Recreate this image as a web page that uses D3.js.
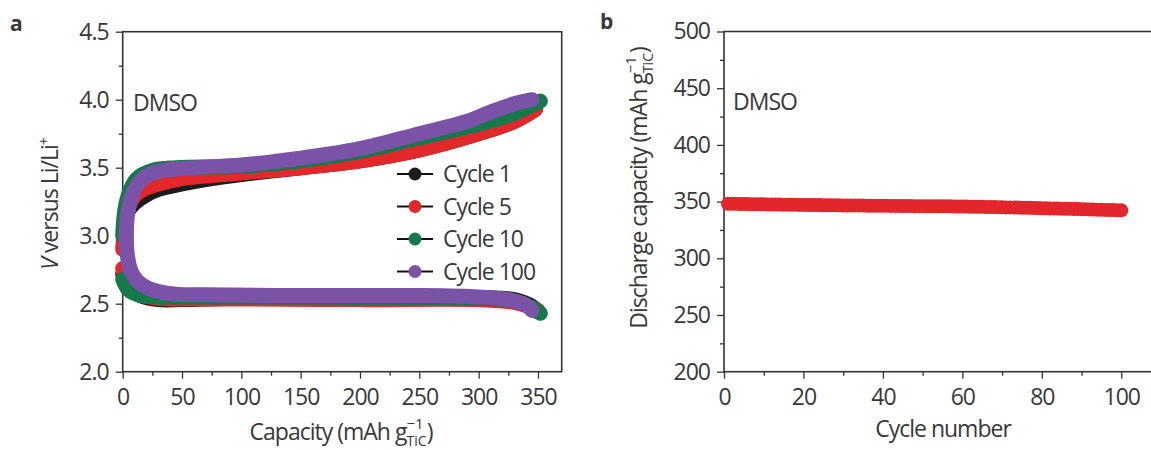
<!DOCTYPE html>
<html>
<head>
<meta charset="utf-8">
<script src="https://cdn.jsdelivr.net/npm/d3@7"></script>
<style>
  body { margin: 0; background: #fff; }
  svg text { font-family: "Open Sans", sans-serif; fill: #383838; letter-spacing: -1px; }
</style>
</head>
<body>
<div id="fig"></div>
<script>
// panel a: capacity (mAh/g) vs voltage, one charge + one discharge branch per cycle
const cycleNames = ["Cycle 1", "Cycle 5", "Cycle 10", "Cycle 100"];
const cycleColors = ["#1c1c1c", "#e3282c", "#15794a", "#7a52a8"];

const chargeCap = [
  [1, 3, 6, 10, 20, 30, 50, 75, 100, 150, 200, 250, 300, 330, 348],
  [0, 3, 8, 15, 30, 50, 100, 150, 200, 250, 300, 330, 348],
  [0, 2, 6, 12, 25, 45, 100, 150, 200, 250, 300, 330, 345, 352],
  [3, 4, 7, 12, 20, 35, 60, 100, 150, 200, 250, 290, 310, 330, 345]
];
const chargeV = [
  [2.95, 3.15, 3.2, 3.24, 3.3, 3.34, 3.38, 3.42, 3.45, 3.5, 3.55, 3.63, 3.75, 3.84, 3.93],
  [2.9, 3.15, 3.27, 3.33, 3.38, 3.42, 3.46, 3.5, 3.55, 3.63, 3.75, 3.84, 3.93],
  [3.0, 3.2, 3.33, 3.42, 3.48, 3.5, 3.51, 3.55, 3.62, 3.72, 3.82, 3.9, 3.96, 3.99],
  [3.0, 3.15, 3.27, 3.37, 3.44, 3.48, 3.5, 3.52, 3.57, 3.64, 3.75, 3.84, 3.91, 3.97, 4.0]
];
const dischargeCap = [
  [0, 5, 15, 30, 50, 100, 200, 300, 330, 345, 350],
  [0, 5, 15, 30, 50, 100, 200, 300, 330, 345, 350],
  [0, 5, 15, 30, 50, 100, 200, 300, 330, 345, 352],
  [3, 4, 7, 12, 20, 30, 45, 70, 150, 250, 300, 325, 340, 345]
];
const dischargeV = [
  [2.72, 2.62, 2.56, 2.53, 2.53, 2.54, 2.54, 2.545, 2.53, 2.48, 2.44],
  [2.76, 2.64, 2.57, 2.54, 2.535, 2.535, 2.53, 2.53, 2.51, 2.47, 2.45],
  [2.68, 2.6, 2.56, 2.55, 2.55, 2.55, 2.545, 2.54, 2.52, 2.47, 2.43],
  [3.0, 2.85, 2.74, 2.67, 2.62, 2.59, 2.57, 2.565, 2.56, 2.56, 2.55, 2.53, 2.49, 2.45]
];

// panel b: discharge capacity for cycles 1..100
const dischargeCapacity = [
  348, 348, 348, 347.9, 347.8, 347.8, 347.7, 347.7, 347.6, 347.6,
  347.5, 347.5, 347.4, 347.4, 347.3, 347.3, 347.2, 347.2, 347.1, 347.1,
  347.0, 347.0, 346.9, 346.9, 346.8, 346.8, 346.8, 346.7, 346.7, 346.6,
  346.6, 346.6, 346.5, 346.5, 346.5, 346.4, 346.4, 346.4, 346.3, 346.3,
  346.3, 346.2, 346.2, 346.2, 346.1, 346.1, 346.1, 346.0, 346.0, 346.0,
  345.9, 345.9, 345.9, 345.9, 345.8, 345.8, 345.8, 345.7, 345.7, 345.6,
  345.6, 345.5, 345.5, 345.4, 345.4, 345.3, 345.2, 345.2, 345.1, 345.0,
  344.9, 344.9, 344.8, 344.7, 344.6, 344.5, 344.5, 344.4, 344.3, 344.2,
  344.1, 344.0, 343.9, 343.9, 343.8, 343.7, 343.6, 343.5, 343.4, 343.3,
  343.2, 343.1, 343.0, 342.9, 342.8, 342.7, 342.6, 342.5, 342.4, 342.3
];

const xTicksA = [0, 50, 100, 150, 200, 250, 300, 350];
const yTicksA = [2.0, 2.5, 3.0, 3.5, 4.0, 4.5];
const xTicksB = [0, 20, 40, 60, 80, 100];
const yTicksB = [200, 250, 300, 350, 400, 450, 500];

const svg = d3.select("#fig").append("svg")
  .attr("width", 1151)
  .attr("height", 450);

const fs = 23;

// ---------- panel a ----------
const ga = svg.append("g");
const xa = d3.scaleLinear().domain([0, 370]).range([122.7, 561.7]);
const ya = d3.scaleLinear().domain([2, 4.5]).range([371.7, 31.7]);

function drawAxes(g, x, y, xt, yt, xMinor, yMinor, fmtY) {
  // minor ticks
  g.append("g").attr("transform", `translate(0,${y.range()[0]})`)
    .call(d3.axisBottom(x).tickValues(xMinor).tickSize(4).tickFormat(""))
    .call(s => s.select(".domain").remove());
  g.append("g").attr("transform", `translate(${x.range()[0]},0)`)
    .call(d3.axisLeft(y).tickValues(yMinor).tickSize(4).tickFormat(""))
    .call(s => s.select(".domain").remove());
  // major ticks
  g.append("g").attr("transform", `translate(0,${y.range()[0]})`)
    .call(d3.axisBottom(x).tickValues(xt).tickSize(7).tickPadding(10).tickFormat(d3.format("d")))
    .call(s => s.select(".domain").remove())
    .selectAll("text").style("font-size", fs + "px");
  g.append("g").attr("transform", `translate(${x.range()[0]},0)`)
    .call(d3.axisLeft(y).tickValues(yt).tickSize(7).tickPadding(7).tickFormat(fmtY))
    .call(s => s.select(".domain").remove())
    .selectAll("text").style("font-size", fs + "px");
  g.selectAll(".tick line").attr("stroke", "#333").attr("stroke-width", 1.3);
  g.selectAll(".tick text").attr("fill", "#383838");
  // frame
  g.append("rect")
    .attr("x", x.range()[0]).attr("y", y.range()[1])
    .attr("width", x.range()[1] - x.range()[0])
    .attr("height", y.range()[0] - y.range()[1])
    .attr("fill", "none").attr("stroke", "#333").attr("stroke-width", 1.6);
}

drawAxes(ga, xa, ya, xTicksA, yTicksA,
  [25, 75, 125, 175, 225, 275, 325], [2.25, 2.75, 3.25, 3.75, 4.25], d3.format(".1f"));

const lineA = d3.line()
  .x(d => xa(d[0]))
  .y(d => ya(d[1]))
  .curve(d3.curveCatmullRom.alpha(0.5));

cycleNames.forEach((name, i) => {
  const ch = chargeCap[i].map((c, j) => [c, chargeV[i][j]]);
  const dis = dischargeCap[i].map((c, j) => [c, dischargeV[i][j]]);
  [ch, dis].forEach(pts => {
    ga.append("path")
      .datum(pts)
      .attr("fill", "none")
      .attr("stroke", cycleColors[i])
      .attr("stroke-width", 15)
      .attr("stroke-linecap", "round")
      .attr("stroke-linejoin", "round")
      .attr("d", lineA);
  });
});

// legend
const leg = ga.append("g");
cycleNames.forEach((name, i) => {
  const yy = 174 + i * 32.5;
  leg.append("line").attr("x1", 397).attr("x2", 433).attr("y1", yy).attr("y2", yy)
    .attr("stroke", "#111").attr("stroke-width", 2.2);
  leg.append("circle").attr("cx", 415).attr("cy", yy).attr("r", 6.5).attr("fill", cycleColors[i]);
  leg.append("text").attr("x", 443).attr("y", yy + 8)
    .style("font-size", fs + "px").text(name);
});

ga.append("text").attr("x", 133).attr("y", 111).style("font-size", fs + "px").text("DMSO");
ga.append("text").attr("x", 10).attr("y", 31).style("font-size", "21px")
  .style("font-weight", "bold").attr("fill", "#111").text("a");

// unit label with stacked super/subscript
function unitLabel(t, main) {
  t.append("tspan").text(main);
  t.append("tspan").attr("dy", -11).style("font-size", "15px").style("letter-spacing", "0px").text("−1");
  t.append("tspan").attr("dx", -17).attr("dy", 17).style("font-size", "14px").style("letter-spacing", "0px").text("TiC");
  t.append("tspan").attr("dy", -6).text(")");
}

// x label a
unitLabel(ga.append("text").attr("x", 341).attr("y", 440)
  .attr("text-anchor", "middle").style("font-size", fs + "px"), "Capacity (mAh g");

// y label a
const yla = ga.append("text")
  .attr("transform", "translate(58,204) rotate(-90)")
  .attr("text-anchor", "middle").style("font-size", fs + "px");
yla.append("tspan").style("font-style", "italic").text("V");
yla.append("tspan").text(" versus Li/Li");
yla.append("tspan").attr("dy", -9).style("font-size", "14px").text("+");

// ---------- panel b ----------
const gb = svg.append("g");
const xb = d3.scaleLinear().domain([0, 110]).range([724, 1161]);
const yb = d3.scaleLinear().domain([200, 500]).range([371.7, 31.5]);

drawAxes(gb, xb, yb, xTicksB, yTicksB,
  [10, 30, 50, 70, 90], [225, 275, 325, 375, 425, 475], d3.format("d"));

gb.selectAll("circle.pt")
  .data(dischargeCapacity)
  .enter()
  .append("circle")
    .attr("class", "pt")
    .attr("cx", (d, i) => xb(i + 1))
    .attr("cy", d => yb(d))
    .attr("r", 7)
    .attr("fill", "#e3262c");

gb.append("text").attr("x", 733).attr("y", 110).style("font-size", fs + "px").text("DMSO");
gb.append("text").attr("x", 600).attr("y", 29).style("font-size", "21px")
  .style("font-weight", "bold").attr("fill", "#111").text("b");

gb.append("text").attr("x", 943).attr("y", 437)
  .attr("text-anchor", "middle").style("font-size", fs + "px").text("Cycle number");

unitLabel(gb.append("text")
  .attr("transform", "translate(647,188) rotate(-90)")
  .attr("text-anchor", "middle").style("font-size", fs + "px"), "Discharge capacity (mAh g");
</script>
</body>
</html>
